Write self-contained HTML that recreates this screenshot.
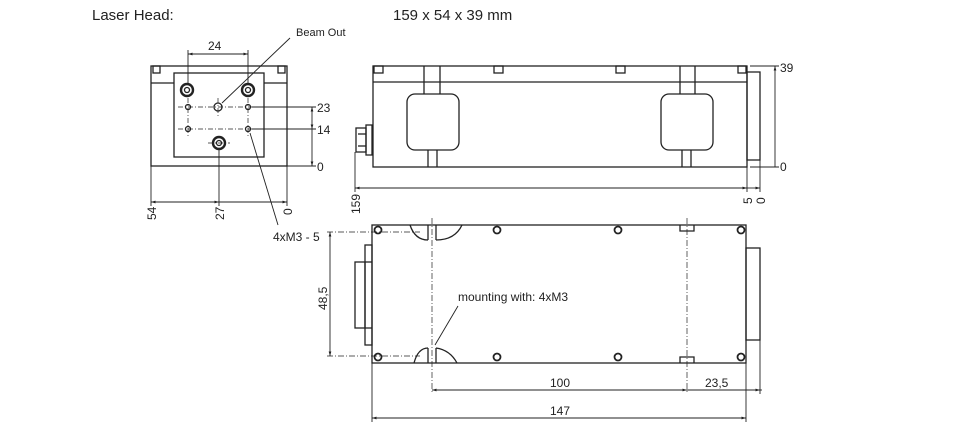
<!DOCTYPE html>
<html><head><meta charset="utf-8"><style>
html,body{margin:0;padding:0;background:#fff;}
svg{display:block;}
text{font-family:"Liberation Sans",Arial,sans-serif;fill:#222;}
</style></head><body>
<svg width="960" height="423" viewBox="0 0 960 423" xmlns="http://www.w3.org/2000/svg">
<defs>
<marker id="a" viewBox="0 0 10 10" refX="10" refY="5" markerWidth="7" markerHeight="5" orient="auto-start-reverse"><path d="M0,2 L10,5 L0,8 z" fill="#222"/></marker>
</defs>
<text x="92" y="20" font-size="15">Laser Head:</text>
<text x="393" y="20" font-size="15">159 x 54 x 39 mm</text>

<g fill="none" stroke="#222" stroke-width="1.3">
<!-- FRONT VIEW -->
<rect x="151" y="66" width="136" height="100"/>
<line x1="151" y1="83" x2="174" y2="83"/><line x1="264" y1="83" x2="287" y2="83"/>
<rect x="153" y="66" width="7" height="7"/><rect x="278" y="66" width="7" height="7"/>
<rect x="174" y="73" width="90" height="84"/>
<g stroke-width="2.4"><circle cx="187" cy="90" r="6"/><circle cx="248" cy="90" r="6"/><circle cx="219" cy="143" r="6"/></g>
<circle cx="187" cy="90" r="2.5"/><circle cx="248" cy="90" r="2.5"/><circle cx="219" cy="143" r="2.5"/>
<circle cx="218" cy="107" r="4"/>
<circle cx="188" cy="107" r="2.5"/><circle cx="248" cy="107" r="2.5"/><circle cx="188" cy="129" r="2.5"/><circle cx="248" cy="129" r="2.5"/>
<g stroke-width="0.7" stroke-dasharray="5,2,1,2"><line x1="178" y1="107" x2="258" y2="107"/><line x1="178" y1="129" x2="258" y2="129"/><line x1="188" y1="98" x2="188" y2="138"/><line x1="248" y1="98" x2="248" y2="138"/><line x1="218" y1="98" x2="218" y2="117"/><line x1="208" y1="143" x2="230" y2="143"/></g>
<g stroke-width="0.9">
<line x1="188" y1="50" x2="188" y2="84"/><line x1="248" y1="50" x2="248" y2="84"/>
<line x1="188" y1="54" x2="248" y2="54" marker-start="url(#a)" marker-end="url(#a)"/>
<line x1="252" y1="107" x2="316" y2="107"/><line x1="252" y1="129" x2="316" y2="129"/><line x1="287" y1="166" x2="316" y2="166"/>
<line x1="312" y1="107" x2="312" y2="129" marker-start="url(#a)" marker-end="url(#a)"/>
<line x1="312" y1="129" x2="312" y2="166" marker-end="url(#a)"/>
<line x1="151" y1="166" x2="151" y2="206"/><line x1="219" y1="149" x2="219" y2="206"/><line x1="287" y1="166" x2="287" y2="206"/>
<line x1="151" y1="202" x2="219" y2="202" marker-start="url(#a)" marker-end="url(#a)"/>
<line x1="219" y1="202" x2="287" y2="202" marker-end="url(#a)"/>
<line x1="222" y1="103" x2="290" y2="38"/>
<line x1="250" y1="133" x2="278" y2="225"/>
</g>

<!-- SIDE VIEW -->
<rect x="373" y="66" width="374" height="101"/>
<line x1="373" y1="82" x2="747" y2="82"/>
<rect x="374" y="66" width="9" height="7"/><rect x="494" y="66" width="9" height="7"/><rect x="616" y="66" width="9" height="7"/><rect x="738" y="66" width="8" height="7"/>
<line x1="424" y1="66" x2="424" y2="94"/><line x1="440" y1="66" x2="440" y2="94"/>
<line x1="680" y1="66" x2="680" y2="94"/><line x1="695" y1="66" x2="695" y2="94"/>
<rect x="407" y="94" width="52" height="56" rx="8"/><rect x="661" y="94" width="52" height="56" rx="8"/>
<line x1="428" y1="150" x2="428" y2="167"/><line x1="437" y1="150" x2="437" y2="167"/>
<line x1="682" y1="150" x2="682" y2="167"/><line x1="691" y1="150" x2="691" y2="167"/>
<rect x="747" y="72" width="13" height="88"/>
<rect x="356" y="128" width="10" height="24"/><rect x="366" y="125" width="6" height="30"/>
<line x1="358" y1="134" x2="366" y2="134"/><line x1="358" y1="146" x2="366" y2="146"/>
<g stroke-width="0.9">
<line x1="355" y1="152" x2="355" y2="192"/><line x1="747" y1="167" x2="747" y2="192"/><line x1="760" y1="160" x2="760" y2="192"/>
<line x1="355" y1="188" x2="747" y2="188" marker-start="url(#a)" marker-end="url(#a)"/>
<line x1="747" y1="188" x2="760" y2="188" marker-end="url(#a)"/>
<line x1="750" y1="66" x2="779" y2="66"/><line x1="750" y1="167" x2="779" y2="167"/>
<line x1="775" y1="66" x2="775" y2="167" marker-start="url(#a)"/>
</g>

<!-- TOP VIEW -->
<rect x="372" y="225" width="374" height="138"/>
<rect x="746" y="248" width="14" height="92"/>
<rect x="355" y="262" width="10" height="66"/><rect x="365" y="245" width="7" height="100"/>
<line x1="365" y1="262" x2="372" y2="262"/><line x1="365" y1="328" x2="372" y2="328"/>
<path d="M410,225 Q415,240 428,240 M436,240 Q455,240 462,225" />
<line x1="428" y1="225" x2="428" y2="240"/><line x1="436" y1="225" x2="436" y2="240"/>
<path d="M414,363 Q418,348 428,348 M436,348 Q450,350 457,363" />
<line x1="428" y1="348" x2="428" y2="363"/><line x1="436" y1="348" x2="436" y2="363"/>
<path d="M680,225 V231 H694 V225 M680,363 V357 H694 V363"/>
<g stroke-width="1.8">
<circle cx="378" cy="230" r="3.5"/><circle cx="497" cy="230" r="3.5"/><circle cx="618" cy="230" r="3.5"/><circle cx="741" cy="230" r="3.5"/>
<circle cx="378" cy="357" r="3.5"/><circle cx="497" cy="357" r="3.5"/><circle cx="618" cy="357" r="3.5"/><circle cx="741" cy="357" r="3.5"/>
</g>
<g stroke-width="0.7" stroke-dasharray="6,2,1,2">
<line x1="327" y1="232" x2="420" y2="232"/><line x1="327" y1="356" x2="420" y2="356"/>
<line x1="432" y1="218" x2="432" y2="392"/><line x1="687" y1="218" x2="687" y2="392"/>
</g>
<g stroke-width="0.9">
<line x1="330" y1="232" x2="330" y2="356" marker-start="url(#a)" marker-end="url(#a)"/>
<line x1="372" y1="363" x2="372" y2="422"/><line x1="746" y1="363" x2="746" y2="422"/><line x1="760" y1="340" x2="760" y2="394"/>
<line x1="432" y1="390" x2="687" y2="390" marker-start="url(#a)" marker-end="url(#a)"/>
<line x1="687" y1="390" x2="760" y2="390" marker-end="url(#a)"/><line x1="760" y1="390" x2="762" y2="390"/>
<line x1="372" y1="418" x2="746" y2="418" marker-start="url(#a)" marker-end="url(#a)"/>
<line x1="458" y1="306" x2="435" y2="345"/>
</g>
</g>

<g font-size="12">
<text x="208" y="50">24</text>
<text x="296" y="36" font-size="11">Beam Out</text>
<text x="317" y="112">23</text>
<text x="317" y="134">14</text>
<text x="317" y="171">0</text>
<text x="273" y="241">4xM3 - 5</text>
<text transform="translate(156,220) rotate(-90)">54</text>
<text transform="translate(224,220) rotate(-90)">27</text>
<text transform="translate(292,215) rotate(-90)">0</text>
<text transform="translate(360,214) rotate(-90)">159</text>
<text transform="translate(752,204) rotate(-90)">5</text>
<text transform="translate(765,204) rotate(-90)">0</text>
<text x="780" y="72">39</text>
<text x="780" y="171">0</text>
<text transform="translate(327,310) rotate(-90)">48,5</text>
<text x="458" y="301">mounting with: 4xM3</text>
<text x="550" y="387">100</text>
<text x="705" y="387">23,5</text>
<text x="550" y="415">147</text>
</g>
</svg>
</body></html>
